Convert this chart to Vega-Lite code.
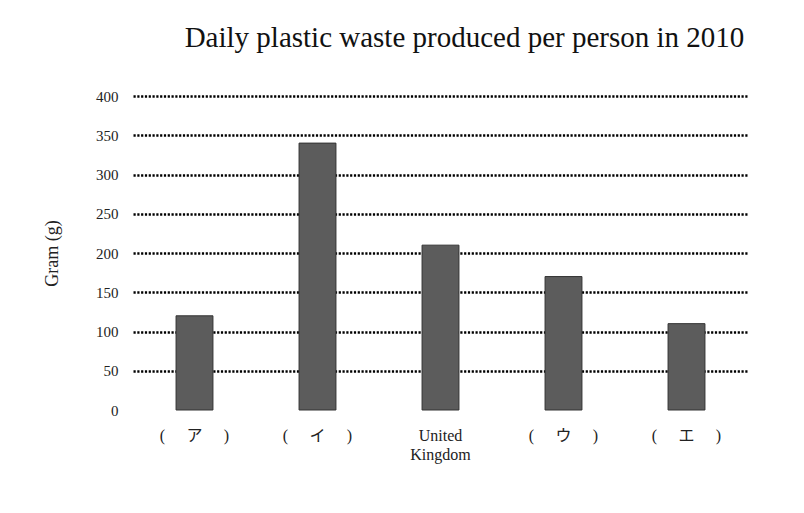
{
  "$schema": "https://vega.github.io/schema/vega-lite/v6.json",
  "width": 615,
  "height": 314,
  "autosize": {"type": "none"},
  "padding": {"left": 133, "top": 96, "right": 56, "bottom": 103},
  "background": "white",
  "title": {
    "text": "Daily plastic waste produced per person in 2010",
    "font": "Liberation Serif",
    "fontSize": 29,
    "fontWeight": "normal",
    "color": "#111",
    "anchor": "middle",
    "dx": 24,
    "offset": 36
  },
  "data": {
    "values": [
      {"country": "(\u3000\u2004ア\u2004\u3000)", "grams": 120},
      {"country": "(\u3000\u2004イ\u2004\u3000)", "grams": 340},
      {"country": "United Kingdom", "grams": 210},
      {"country": "(\u3000\u2004ウ\u2004\u3000)", "grams": 170},
      {"country": "(\u3000\u2004エ\u2004\u3000)", "grams": 110}
    ]
  },
  "mark": {"type": "bar", "color": "#5c5c5c", "stroke": "#333", "strokeWidth": 1},
  "encoding": {
    "x": {
      "field": "country",
      "type": "nominal",
      "sort": null,
      "scale": {"paddingInner": 0.7, "paddingOuter": 0.35},
      "axis": {
        "title": null,
        "labelAngle": 0,
        "domain": false,
        "ticks": false,
        "labelPadding": 17,
        "labelFont": "Liberation Serif, Noto Sans CJK JP",
        "labelFontSize": 16,
        "labelColor": "#222",
        "labelLineHeight": 19,
        "labelBaseline": "top",
        "labelExpr": "datum.label == 'United Kingdom' ? ['United', 'Kingdom'] : datum.label"
      }
    },
    "y": {
      "field": "grams",
      "type": "quantitative",
      "scale": {"domain": [0, 400]},
      "axis": {
        "title": "Gram (g)",
        "titleFont": "Liberation Serif",
        "titleFontSize": 18,
        "titleFontWeight": "normal",
        "titleColor": "#222",
        "titlePadding": 34,
        "values": [0, 50, 100, 150, 200, 250, 300, 350, 400],
        "labelFont": "Liberation Serif",
        "labelFontSize": 15,
        "labelColor": "#222",
        "labelPadding": 15,
        "domain": false,
        "ticks": false,
        "grid": true,
        "gridColor": "#000",
        "gridWidth": 2.5,
        "gridDash": [2.2, 1.6],
        "gridOpacity": {"condition": {"test": "datum.value == 0", "value": 0}, "value": 1}
      }
    }
  },
  "config": {"view": {"stroke": null}}
}
